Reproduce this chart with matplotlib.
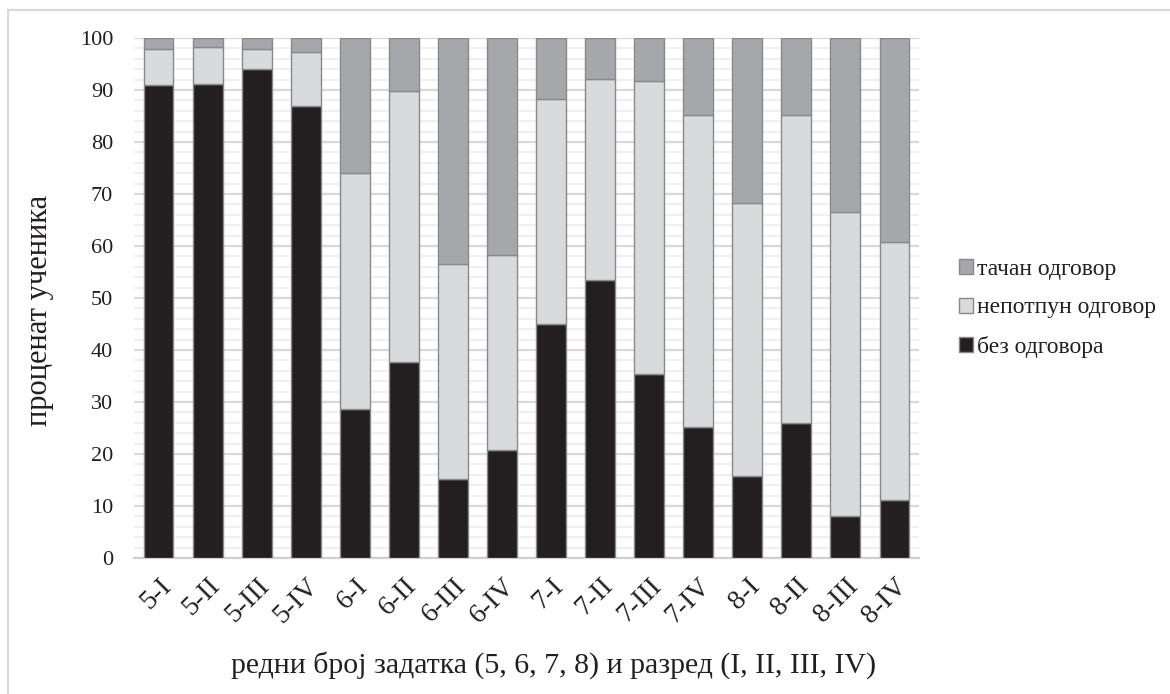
import matplotlib
matplotlib.use("Agg")
import matplotlib.pyplot as plt
from matplotlib.patches import Rectangle
from matplotlib.ticker import MultipleLocator
import numpy as np

# data
categories = ["5-I", "5-II", "5-III", "5-IV", "6-I", "6-II", "6-III", "6-IV",
              "7-I", "7-II", "7-III", "7-IV", "8-I", "8-II", "8-III", "8-IV"]
bez_odgovora = [91.0, 91.2, 94.0, 87.0, 28.7, 37.7, 15.2, 20.8,
                45.0, 53.4, 35.3, 25.1, 15.7, 25.9, 8.0, 11.2]
nepotpun = [6.8, 7.1, 3.9, 10.4, 45.3, 52.1, 41.4, 37.4,
            43.2, 38.7, 56.5, 60.1, 52.5, 59.2, 58.6, 49.6]
tacan = [2.2, 1.7, 2.1, 2.6, 26.0, 10.2, 43.4, 41.8,
         11.8, 7.9, 8.2, 14.8, 31.8, 14.9, 33.4, 39.2]

c_dark = "#231f20"
c_light = "#d9dadc"
c_mid = "#a6a7aa"
c_edge = "#88898c"

plt.rcParams["font.family"] = ["Liberation Serif", "DejaVu Serif"]

fig = plt.figure(figsize=(11.7, 6.94), dpi=100)
ax = fig.add_axes([134 / 1170, 136 / 694, 785 / 1170, 520 / 694])

# outer frame
fig.patches.append(Rectangle((8 / 1170, -0.05), 1.2, (694 - 10) / 694 + 0.05,
                             transform=fig.transFigure, fill=False,
                             edgecolor="#d9d9d9", linewidth=1.5, zorder=0))

x = np.arange(len(categories))
w = 0.61
b1 = np.array(bez_odgovora)
b2 = b1 + np.array(nepotpun)

ax.bar(x, bez_odgovora, w, color=c_dark, edgecolor=c_edge, linewidth=1.0,
       label="без одговора", zorder=3)
ax.bar(x, nepotpun, w, bottom=b1, color=c_light, edgecolor=c_edge,
       linewidth=1.0, label="непотпун одговор", zorder=3)
ax.bar(x, tacan, w, bottom=b2, color=c_mid, edgecolor=c_edge, linewidth=1.0,
       label="тачан одговор", zorder=3)

ax.set_xlim(-0.5, len(categories) - 0.5)
ax.set_ylim(0, 100)
ax.yaxis.set_major_locator(MultipleLocator(10))
ax.yaxis.set_minor_locator(MultipleLocator(2))
ax.grid(axis="y", which="major", color="#d9d9d9", linewidth=1.6, zorder=0)
ax.grid(axis="y", which="minor", color="#f0f0f0", linewidth=1.4, zorder=0)
for s in ["top", "right", "left"]:
    ax.spines[s].set_visible(False)
ax.spines["bottom"].set_color("#d0d0d0")
ax.spines["bottom"].set_linewidth(1.6)
ax.tick_params(axis="both", which="both", length=0, colors="#231f20")
ax.tick_params(axis="y", labelsize=16, pad=15)
ax.tick_params(axis="x", labelsize=20, pad=11)

ax.set_xticks(x)
ax.set_xticklabels(categories, rotation=45, ha="right", rotation_mode="anchor")

ax.set_ylabel("проценат ученика", fontsize=22, va="center", color="#231f20")
ax.yaxis.set_label_coords(-0.12, 0.477)
ax.set_xlabel("редни број задатка (5, 6, 7, 8) и разред (I, II, III, IV)",
              fontsize=21.5, va="center", color="#231f20")
ax.xaxis.set_label_coords(0.534, -0.205)

handles, labels = ax.get_legend_handles_labels()
ax.legend(handles[::-1], labels[::-1], loc="center left",
          bbox_to_anchor=(1.03, 0.48), frameon=False, fontsize=17,
          handlelength=0.6, handleheight=0.6, handletextpad=0.15,
          labelspacing=0.75, borderaxespad=0.3, labelcolor="#231f20")

fig.savefig("out.png", dpi=100)
